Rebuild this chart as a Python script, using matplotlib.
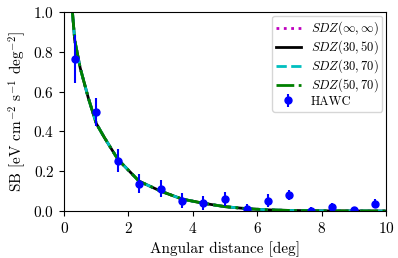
import matplotlib
matplotlib.use("Agg")
import matplotlib.pyplot as plt

plt.rcParams['font.family'] = 'serif'
plt.rcParams['font.serif'] = ['cmr10', 'DejaVu Serif']
plt.rcParams['mathtext.fontset'] = 'cm'
plt.rcParams['axes.formatter.use_mathtext'] = True
plt.rcParams['font.size'] = 11

# HAWC points
hawc_x = [0.33, 1.0, 1.67, 2.33, 3.0, 3.67, 4.33, 5.0, 5.67, 6.33, 7.0, 7.67, 8.33, 9.0, 9.67]
hawc_y = [0.764, 0.499, 0.253, 0.137, 0.112, 0.052, 0.039, 0.06, 0.008, 0.052, 0.08, 0.0, 0.019, 0.005, 0.037]
hawc_err = [0.12, 0.07, 0.058, 0.048, 0.042, 0.038, 0.036, 0.035, 0.026, 0.034, 0.026, 0.018, 0.022, 0.015, 0.022]

# model curves (all four nearly identical)
model_x = [0.26, 0.33, 0.5, 0.75, 1.0, 1.25, 1.67, 2.0, 2.33, 3.0, 3.67, 4.33, 5.0, 5.67, 6.33, 7.0, 8.0, 9.0, 10.0]
model_y = [1.0, 0.86, 0.72, 0.57, 0.44, 0.37, 0.26, 0.205, 0.15, 0.10, 0.06, 0.039, 0.022, 0.012, 0.006, 0.003, 0.001, 0.0005, 0.0]

fig = plt.figure(figsize=(3.98, 2.58), dpi=100)
ax = fig.add_axes([0.161, 0.182, 0.809, 0.771])

ax.plot(model_x, model_y, ':', color='m', lw=2, label=r'$SDZ(\infty,\infty)$')
ax.plot(model_x, model_y, '-', color='k', lw=2, label=r'$SDZ(30,50)$')
ax.plot(model_x, model_y, '--', color='c', lw=2, label=r'$SDZ(30,70)$')
ax.plot(model_x, model_y, '-.', color='g', lw=2, label=r'$SDZ(50,70)$')
ax.errorbar(hawc_x, hawc_y, yerr=hawc_err, fmt='o', color='b', ms=5, lw=1.5, label='HAWC')

ax.set_xlim(0, 10)
ax.set_ylim(0, 1)
ax.set_xlabel('Angular distance [deg]')
ax.set_ylabel(r'SB [eV cm$^{-2}$ s$^{-1}$ deg$^{-2}$]')
ax.legend(loc='upper right', fontsize=9, labelspacing=0.1, handlelength=2.0,
          borderpad=0.3, handletextpad=0.8, borderaxespad=0.3)

fig.savefig('out.png', dpi=100)
